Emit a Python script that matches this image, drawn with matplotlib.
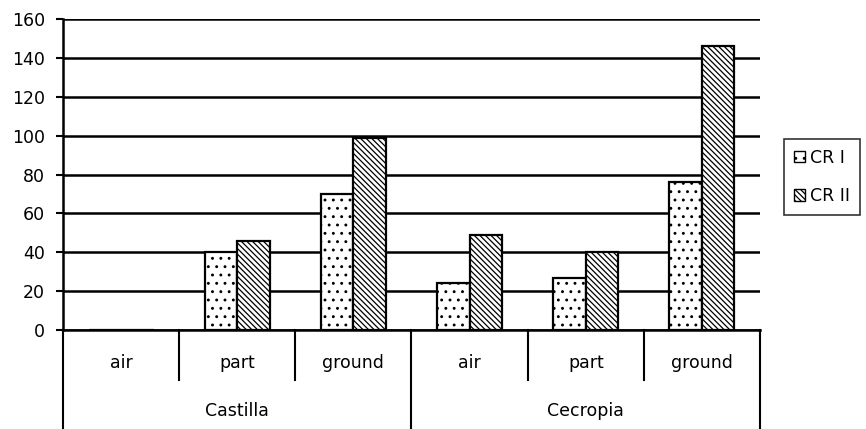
import numpy as np
import matplotlib
matplotlib.use("Agg")
import matplotlib.pyplot as plt
import matplotlib.transforms as mtransforms
from matplotlib.patches import Patch

plt.rcParams['font.family'] = ['DejaVu Sans']
plt.rcParams['hatch.linewidth'] = 0.9

# data
sites = ["Castilla", "Cecropia"]
positions = ["air", "part", "ground", "air", "part", "ground"]
cr1 = [0, 40, 70, 24, 27, 76]
cr2 = [0, 46, 99, 49, 40, 146]
series_names = ["CR I", "CR II"]
yticks = [0, 20, 40, 60, 80, 100, 120, 140, 160]

FS = 12.5
DOTS = ".."
DIAG = "\\" * 6

W, H = 866, 429
fig = plt.figure(figsize=(W / 100, H / 100), dpi=100)
# axes box in pixels: x 63..760, y 19..330
ax = fig.add_axes([63 / W, (H - 330) / H, 697 / W, 311 / H])

x = np.arange(len(positions))
bw = 0.28
ax.bar(x - bw / 2, cr1, bw, color="white", edgecolor="black", hatch=DOTS, linewidth=1.6, zorder=3)
ax.bar(x + bw / 2, cr2, bw, color="white", edgecolor="black", hatch=DIAG, linewidth=1.6, zorder=3)

ax.set_xlim(-0.5, len(positions) - 0.5)
ax.set_ylim(0, 160)
ax.set_yticks(yticks)
ax.set_yticklabels([str(t) for t in yticks], fontsize=FS)
ax.tick_params(axis='y', length=5, width=1.5, pad=8)
ax.set_xticks([])
for t in yticks:
    ax.axhline(t, color="black", linewidth=1.8, zorder=1)
for s in ["top", "right", "bottom"]:
    ax.spines[s].set_visible(False)
ax.spines["left"].set_linewidth(1.8)

# multi-level category axis below the plot
trans = mtransforms.blended_transform_factory(ax.transData, ax.transAxes)
y_inner = -50 / 311
y_outer = -100 / 311
ax.plot([-0.5, len(positions) - 0.5], [0, 0], color="black", lw=1.8, transform=trans, clip_on=False, zorder=4)
for b in [0.5, 1.5, 3.5, 4.5]:
    ax.plot([b, b], [0, y_inner], color="black", lw=1.5, transform=trans, clip_on=False)
for b in [-0.5, 2.5, 5.5]:
    ax.plot([b, b], [0, y_outer], color="black", lw=1.5, transform=trans, clip_on=False)
for i, p in enumerate(positions):
    ax.text(i, -33 / 311, p, ha="center", va="center", fontsize=FS, transform=trans)
for j, s in enumerate(sites):
    ax.text(1 + 3 * j, -81 / 311, s, ha="center", va="center", fontsize=FS, transform=trans)

handles = [Patch(facecolor="white", edgecolor="black", hatch=DOTS, label=series_names[0]),
           Patch(facecolor="white", edgecolor="black", hatch=DIAG, label=series_names[1])]
leg = fig.legend(handles=handles, loc="upper left", bbox_to_anchor=(784 / W, 1 - 139 / H),
                 frameon=True, fancybox=False, edgecolor="black", fontsize=FS,
                 handlelength=0.65, handleheight=0.65, handletextpad=0.3, labelspacing=1.2,
                 borderpad=0.55, borderaxespad=0)
leg.get_frame().set_linewidth(1.2)

fig.savefig("out.png", dpi=100)
